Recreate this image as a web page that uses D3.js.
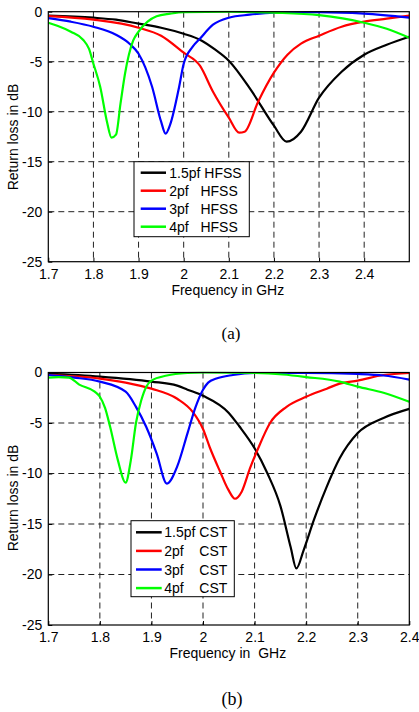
<!DOCTYPE html>
<html>
<head>
<meta charset="utf-8">
<script src="https://cdn.jsdelivr.net/npm/d3@7"></script>
<style>
  html, body { margin: 0; padding: 0; background: #fff; }
  svg { display: block; }
  text { font-family: "Liberation Sans", Arial, sans-serif; fill: #000; }
  .pre { white-space: pre; }
</style>
</head>
<body>
<svg id="chart" width="419" height="712"></svg>
<script>
// ---------- DATA ----------
// Panel (a): HFSS
const hfssXTicks = [1.7, 1.8, 1.9, 2.0, 2.1, 2.2, 2.3, 2.4];
const hfssXTickLabels = ["1.7", "1.8", "1.9", "2", "2.1", "2.2", "2.3", "2.4"];
const yTicks = [0, -5, -10, -15, -20, -25];
const yTickLabels = ["0", "-5", "-10", "-15", "-20", "-25"];

const hfss15pf = [[1.7,-0.4],[1.8,-0.6],[1.85,-0.8],[1.9,-1.2],[1.95,-1.6],[2.0,-2.2],[2.036,-2.8],[2.07,-3.8],[2.1,-4.9],[2.15,-7.9],[2.2,-11.4],[2.228,-13.0],[2.26,-12.0],[2.3,-8.6],[2.35,-6.0],[2.4,-4.3],[2.45,-3.3],[2.5,-2.5]];
const hfss2pf = [[1.7,-0.45],[1.8,-0.8],[1.9,-1.6],[1.95,-2.4],[2.0,-4.1],[2.036,-5.4],[2.065,-8.0],[2.1,-10.6],[2.123,-12.1],[2.135,-12.0],[2.165,-9.0],[2.2,-6.1],[2.23,-4.3],[2.26,-3.2],[2.3,-2.4],[2.35,-1.5],[2.4,-1.0],[2.45,-0.7],[2.5,-0.4]];
const hfss3pf = [[1.7,-0.65],[1.75,-1.0],[1.8,-1.5],[1.85,-2.3],[1.88,-3.2],[1.9,-4.2],[1.93,-7.5],[1.95,-11.0],[1.96,-12.2],[1.97,-11.3],[1.99,-7.5],[2.0,-5.2],[2.02,-3.5],[2.036,-2.7],[2.065,-1.3],[2.1,-0.6],[2.146,-0.3],[2.2,-0.1],[2.3,-0.05],[2.4,-0.2],[2.5,-0.6]];
const hfss4pf = [[1.7,-1.1],[1.72,-1.4],[1.75,-2.0],[1.777,-2.8],[1.79,-3.7],[1.8,-5.2],[1.815,-7.5],[1.83,-11.0],[1.84,-12.6],[1.85,-12.3],[1.86,-9.2],[1.87,-6.2],[1.888,-2.9],[1.9,-2.0],[1.92,-1.0],[1.94,-0.45],[1.97,-0.2],[2.0,-0.05],[2.1,0],[2.2,-0.1],[2.3,-0.35],[2.4,-1.1],[2.45,-1.7],[2.5,-2.6]];
const hfssLabels = ["1.5pf HFSS", "2pf   HFSS", "3pf   HFSS", "4pf   HFSS"];

// Panel (b): CST
const cstXTicks = [1.7, 1.8, 1.9, 2.0, 2.1, 2.2, 2.3, 2.4];
const cstXTickLabels = ["1.7", "1.8", "1.9", "2", "2.1", "2.2", "2.3", "2.4"];

const cst15pf = [[1.7,-0.1],[1.8,-0.4],[1.9,-0.9],[1.95,-1.3],[1.97,-1.7],[2.0,-2.3],[2.05,-4.0],[2.07,-5.3],[2.1,-7.5],[2.125,-10.0],[2.15,-13.2],[2.17,-17.3],[2.181,-19.4],[2.195,-17.6],[2.215,-14.6],[2.24,-11.3],[2.265,-8.5],[2.3,-6.0],[2.35,-4.5],[2.4,-3.6]];
const cst2pf = [[1.7,-0.25],[1.8,-0.6],[1.85,-1.0],[1.9,-1.6],[1.95,-2.6],[1.98,-3.9],[2.0,-5.6],[2.013,-7.4],[2.033,-9.8],[2.049,-11.6],[2.062,-12.5],[2.075,-11.8],[2.091,-9.5],[2.107,-7.5],[2.13,-5.0],[2.162,-3.4],[2.2,-2.4],[2.24,-1.6],[2.265,-1.1],[2.3,-0.8],[2.35,-0.25],[2.4,-0.05]];
const cst3pf = [[1.7,-0.25],[1.75,-0.5],[1.8,-0.9],[1.85,-1.9],[1.87,-3.4],[1.89,-5.4],[1.91,-8.0],[1.93,-11.0],[1.95,-9.3],[1.97,-6.0],[1.985,-3.5],[2.0,-1.7],[2.01,-1.0],[2.026,-0.6],[2.058,-0.25],[2.1,-0.05],[2.2,-0.05],[2.3,-0.15],[2.35,-0.3],[2.4,-0.7]];
const cst4pf = [[1.7,-0.5],[1.72,-0.45],[1.74,-0.5],[1.76,-1.2],[1.79,-1.9],[1.8,-2.4],[1.81,-3.5],[1.82,-5.4],[1.835,-8.7],[1.85,-10.9],[1.86,-8.7],[1.87,-5.0],[1.88,-2.8],[1.89,-1.4],[1.9,-0.8],[1.93,-0.3],[1.97,-0.05],[2.0,0],[2.1,-0.05],[2.155,-0.2],[2.2,-0.45],[2.265,-0.9],[2.3,-1.4],[2.35,-2.0],[2.4,-2.9]];
const cstLabels = ["1.5pf CST", "2pf    CST", "3pf    CST", "4pf    CST"];

const seriesColors = ["#000000", "#ff0000", "#0000ff", "#00ff00"];
const xAxisTitles = ["Frequency in GHz", "Frequency in\u00A0 GHz"];
const yAxisTitle = "Return loss in dB";
const panelCaptions = ["(a)", "(b)"];

// ---------- DRAW ----------
const svg = d3.select("#chart");

function drawPanel(cfg) {
  const g = svg.append("g");
  const x = d3.scaleLinear().domain(cfg.xDomain).range([cfg.left, cfg.right]);
  const y = d3.scaleLinear().domain([-25, 0]).range([cfg.bottom, cfg.top]);

  // grid
  g.selectAll(".vgrid").data(cfg.xTicks.filter(d => d > cfg.xDomain[0] && d < cfg.xDomain[1]))
    .enter().append("line")
    .attr("x1", d => x(d)).attr("x2", d => x(d))
    .attr("y1", cfg.top).attr("y2", cfg.bottom)
    .attr("stroke", "#222").attr("stroke-width", 1).attr("stroke-dasharray", "6,4");
  g.selectAll(".hgrid").data(yTicks.filter(d => d > -25 && d < 0))
    .enter().append("line")
    .attr("x1", cfg.left).attr("x2", cfg.right)
    .attr("y1", d => y(d)).attr("y2", d => y(d))
    .attr("stroke", "#222").attr("stroke-width", 1).attr("stroke-dasharray", "6,4");

  // curves
  const line = d3.line().x(d => x(d[0])).y(d => y(d[1])).curve(d3.curveMonotoneX);
  const clipId = "clip" + cfg.idx;
  svg.append("clipPath").attr("id", clipId).append("rect")
    .attr("x", cfg.left).attr("y", cfg.top - 1)
    .attr("width", cfg.right - cfg.left).attr("height", cfg.bottom - cfg.top + 1);
  cfg.series.forEach((s, i) => {
    g.append("path").datum(s)
      .attr("d", line)
      .attr("fill", "none")
      .attr("stroke", seriesColors[i])
      .attr("stroke-width", 2.2)
      .attr("stroke-linejoin", "round")
      .attr("clip-path", `url(#${clipId})`);
  });

  // frame
  g.append("rect")
    .attr("x", cfg.left).attr("y", cfg.top)
    .attr("width", cfg.right - cfg.left).attr("height", cfg.bottom - cfg.top)
    .attr("fill", "none").attr("stroke", "#000").attr("stroke-width", 1.2);

  // axes (ticks inside, labels via d3 axis)
  const xAxis = d3.axisBottom(x).tickValues(cfg.xTicks)
    .tickFormat((d, i) => cfg.xTickLabels[i]).tickSizeInner(-4).tickSizeOuter(0).tickPadding(7);
  const xa = g.append("g").attr("transform", `translate(0,${cfg.bottom})`).call(xAxis);
  xa.select(".domain").remove();
  xa.selectAll("text").attr("font-size", 14).attr("font-family", '"Liberation Sans", Arial, sans-serif');

  const yAxis = d3.axisLeft(y).tickValues(yTicks)
    .tickFormat((d, i) => yTickLabels[i]).tickSizeInner(-4).tickSizeOuter(0).tickPadding(6);
  const ya = g.append("g").attr("transform", `translate(${cfg.left},0)`).call(yAxis);
  ya.select(".domain").remove();
  ya.selectAll("text").attr("font-size", 14).attr("font-family", '"Liberation Sans", Arial, sans-serif');

  // axis titles
  g.append("text").attr("x", (cfg.left + cfg.right) / 2 - 1).attr("y", cfg.xTitleY)
    .attr("text-anchor", "middle").attr("font-size", 14).attr("class", "pre").text(cfg.xTitle);
  g.append("text")
    .attr("transform", `translate(18,${cfg.yTitleY}) rotate(-90)`)
    .attr("text-anchor", "middle").attr("font-size", 14).text(yAxisTitle);

  // legend
  const lg = g.append("g");
  lg.append("rect").attr("x", cfg.legend.x).attr("y", cfg.legend.y)
    .attr("width", cfg.legend.w).attr("height", cfg.legend.h)
    .attr("fill", "#fff").attr("stroke", "#000").attr("stroke-width", 1);
  cfg.labels.forEach((lab, i) => {
    const yy = cfg.legend.y + cfg.legend.row0 + i * cfg.legend.dy;
    lg.append("line").attr("x1", cfg.legend.x + cfg.legend.lx0).attr("x2", cfg.legend.x + cfg.legend.lx1)
      .attr("y1", yy).attr("y2", yy).attr("stroke", seriesColors[i]).attr("stroke-width", 2.5);
    lg.append("text").attr("x", cfg.legend.x + cfg.legend.tx).attr("y", yy)
      .attr("dy", "0.36em").attr("font-size", 14).attr("class", "pre").text(lab);
  });

  // caption
  svg.append("text").attr("x", cfg.capX).attr("y", cfg.capY).attr("text-anchor", "middle")
    .attr("font-size", cfg.capSize).style("font-family", '"Liberation Serif", "Times New Roman", serif')
    .text(cfg.caption);
}

drawPanel({
  idx: 0,
  xDomain: [1.7, 2.5], left: 48.3, right: 409.3, top: 11.7, bottom: 261.7,
  xTicks: hfssXTicks, xTickLabels: hfssXTickLabels,
  series: [hfss15pf, hfss2pf, hfss3pf, hfss4pf],
  labels: hfssLabels,
  xTitle: xAxisTitles[0], xTitleY: 295, yTitleY: 137,
  legend: { x: 134, y: 161.7, w: 115.3, h: 75, row0: 11, dy: 18, lx0: 6.7, lx1: 32, tx: 35.3 },
  caption: panelCaptions[0], capX: 231, capY: 339, capSize: 17
});

drawPanel({
  idx: 1,
  xDomain: [1.7, 2.4], left: 48.3, right: 409.3, top: 372.5, bottom: 625,
  xTicks: cstXTicks, xTickLabels: cstXTickLabels,
  series: [cst15pf, cst2pf, cst3pf, cst4pf],
  labels: cstLabels,
  xTitle: xAxisTitles[1], xTitleY: 658, yTitleY: 498,
  legend: { x: 131, y: 520.7, w: 103.3, h: 76, row0: 11.6, dy: 18.6, lx0: 5, lx1: 30.7, tx: 33.3 },
  caption: panelCaptions[1], capX: 232, capY: 705, capSize: 18
});
</script>
</body>
</html>
